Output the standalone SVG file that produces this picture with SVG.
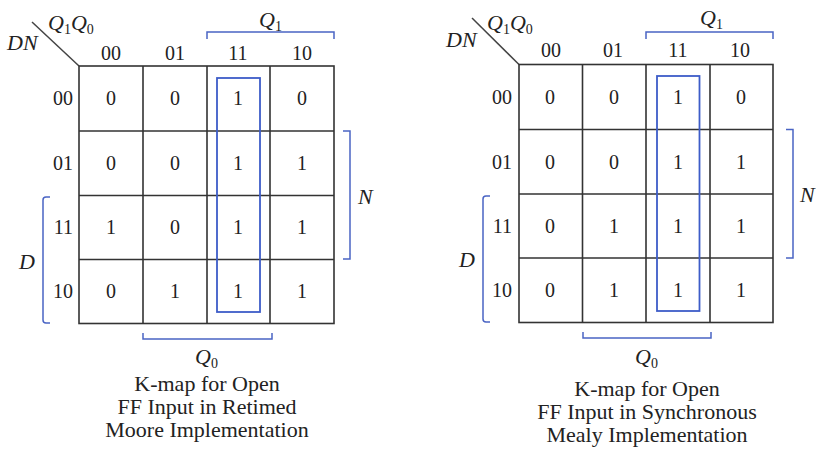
<svg xmlns="http://www.w3.org/2000/svg" width="816" height="451" viewBox="0 0 816 451">
<style>
text{font-family:"Liberation Serif","Times New Roman",serif;fill:#222;}
.v{font-size:20px;text-anchor:middle;}
.r{font-size:20px;text-anchor:end;}
.it{font-style:italic;font-size:22px;}
.sub{font-size:14px;font-style:normal;}
.cap{font-size:22px;text-anchor:middle;}
.grid{fill:none;stroke:#333;stroke-width:1.6;}
.loop{fill:none;stroke:#3d5cc8;stroke-width:1.8;}
.br{fill:none;stroke:#4a64c4;stroke-width:1.5;}
.diag{stroke:#444;stroke-width:1.5;}
</style>
<rect width="816" height="451" fill="#fff"/>
<g id="kmap-left">
<line class="diag" x1="32" y1="22" x2="79" y2="66"/>
<text class="it" x="48" y="30">Q<tspan class="sub" dy="4">1</tspan><tspan dy="-4">Q</tspan><tspan class="sub" dy="4">0</tspan></text>
<text class="it" x="7" y="50">DN</text>
<text class="v" x="111" y="60">00</text>
<text class="v" x="175" y="60">01</text>
<text class="v" x="238" y="60">11</text>
<text class="v" x="302" y="60">10</text>
<rect class="grid" x="79" y="66" width="255" height="257.5"/>
<path class="grid" d="M143,66V323.5M207,66V323.5M270,66V323.5M79,131H334M79,195.5H334M79,259.5H334"/>
<text class="r" x="73" y="105">00</text>
<text class="r" x="73" y="169.5">01</text>
<text class="r" x="73" y="234">11</text>
<text class="r" x="73" y="298">10</text>
<text class="v" x="111" y="105">0</text><text class="v" x="175" y="105">0</text><text class="v" x="238" y="105">1</text><text class="v" x="302" y="105">0</text>
<text class="v" x="111" y="169.5">0</text><text class="v" x="175" y="169.5">0</text><text class="v" x="238" y="169.5">1</text><text class="v" x="302" y="169.5">1</text>
<text class="v" x="111" y="234">1</text><text class="v" x="175" y="234">0</text><text class="v" x="238" y="234">1</text><text class="v" x="302" y="234">1</text>
<text class="v" x="111" y="298">0</text><text class="v" x="175" y="298">1</text><text class="v" x="238" y="298">1</text><text class="v" x="302" y="298">1</text>
<rect class="loop" x="217" y="78" width="43" height="234"/>
<path class="br" d="M207,39V32H334V39"/>
<text class="it" x="259" y="27">Q<tspan class="sub" dy="4">1</tspan></text>
<path class="br" d="M343,131H350V259H343"/>
<text class="it" x="358" y="204">N</text>
<path class="br" d="M50,197H46Q43,197 43,200V320Q43,323 46,323H50"/>
<text class="it" x="19" y="269">D</text>
<path class="br" d="M143,333V339H272V333"/>
<text class="it" x="195" y="364">Q<tspan class="sub" dy="4">0</tspan></text>
<text class="cap" x="207" y="391">K-map for Open</text>
<text class="cap" x="207" y="414">FF Input in Retimed</text>
<text class="cap" x="207" y="437">Moore Implementation</text>
</g>
<g id="kmap-right">
<line class="diag" x1="472" y1="18" x2="519" y2="64.5"/>
<text class="it" x="487" y="30">Q<tspan class="sub" dy="4">1</tspan><tspan dy="-4">Q</tspan><tspan class="sub" dy="4">0</tspan></text>
<text class="it" x="446" y="47">DN</text>
<text class="v" x="551" y="57">00</text>
<text class="v" x="613" y="57">01</text>
<text class="v" x="678" y="57">11</text>
<text class="v" x="740" y="57">10</text>
<rect class="grid" x="519" y="64.5" width="254" height="258"/>
<path class="grid" d="M582.5,64.5V322.5M646,64.5V322.5M710,64.5V322.5M519,129.5H773M519,194H773M519,258H773"/>
<text class="r" x="512" y="104">00</text>
<text class="r" x="512" y="168.5">01</text>
<text class="r" x="512" y="233">11</text>
<text class="r" x="512" y="297">10</text>
<text class="v" x="550" y="104">0</text><text class="v" x="614" y="104">0</text><text class="v" x="678" y="104">1</text><text class="v" x="741" y="104">0</text>
<text class="v" x="550" y="168.5">0</text><text class="v" x="614" y="168.5">0</text><text class="v" x="678" y="168.5">1</text><text class="v" x="741" y="168.5">1</text>
<text class="v" x="550" y="233">0</text><text class="v" x="614" y="233">1</text><text class="v" x="678" y="233">1</text><text class="v" x="741" y="233">1</text>
<text class="v" x="550" y="297">0</text><text class="v" x="614" y="297">1</text><text class="v" x="678" y="297">1</text><text class="v" x="741" y="297">1</text>
<rect class="loop" x="657" y="76" width="42.5" height="235"/>
<path class="br" d="M646,39V32H773V39"/>
<text class="it" x="700" y="25">Q<tspan class="sub" dy="4">1</tspan></text>
<path class="br" d="M786,129.5H793V258H786"/>
<text class="it" x="800" y="202">N</text>
<path class="br" d="M490,196H486Q483,196 483,199V319Q483,322 486,322H490"/>
<text class="it" x="459" y="267">D</text>
<path class="br" d="M583,332V338H711V332"/>
<text class="it" x="635" y="364">Q<tspan class="sub" dy="4">0</tspan></text>
<text class="cap" x="647" y="396">K-map for Open</text>
<text class="cap" x="647" y="419">FF Input in Synchronous</text>
<text class="cap" x="647" y="442">Mealy Implementation</text>
</g>
<g id="connectors"></g>
</svg>
